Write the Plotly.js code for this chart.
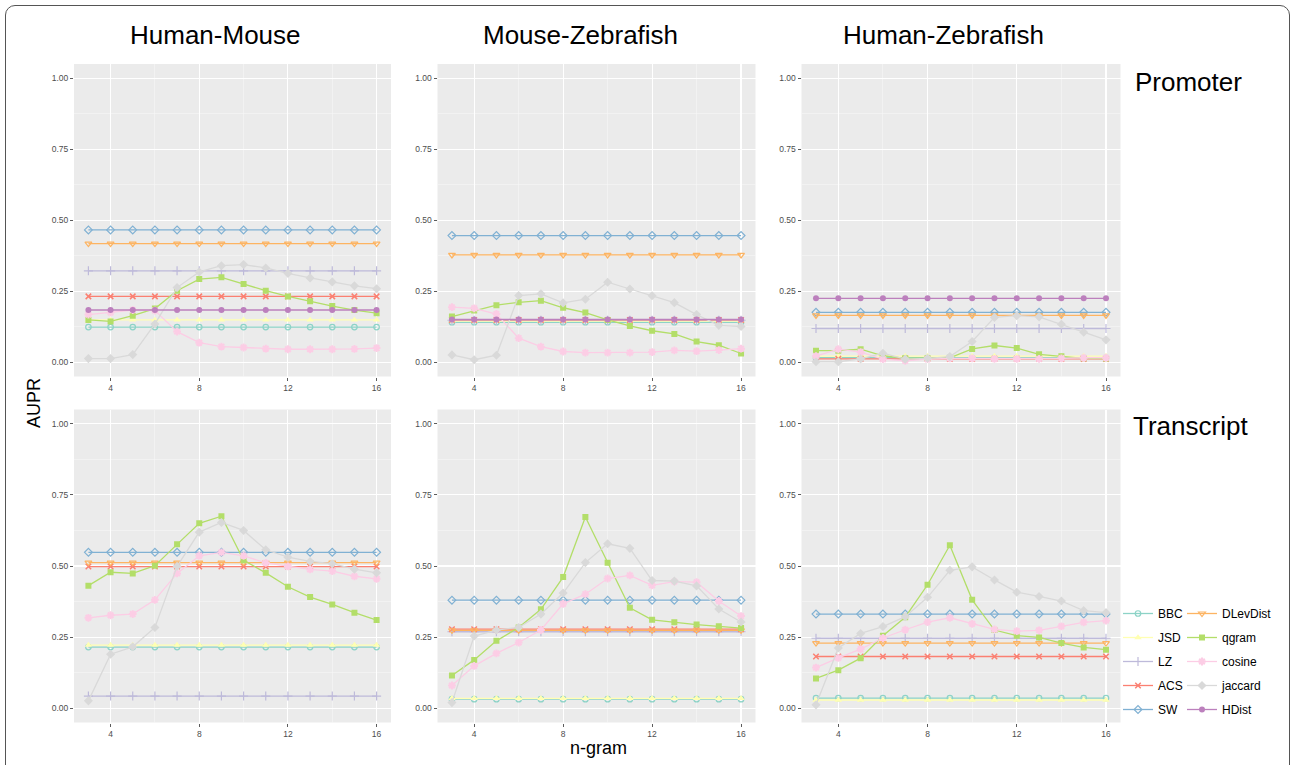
<!DOCTYPE html>
<html>
<head>
<meta charset="utf-8">
<script src="https://cdn.plot.ly/plotly-3.0.1.min.js"></script>
<style>
  html, body { margin: 0; padding: 0; background: #fff; }
  #wrap { position: relative; width: 1292px; height: 765px; overflow: hidden; }
  #chart { position: absolute; left: 0; top: 0; width: 1292px; height: 765px; }
  #frame { position: absolute; left: 5px; top: 5px; width: 1283px; height: 820px;
           border: 1.5px solid #555; border-radius: 10px; pointer-events: none; }
</style>
</head>
<body>
<div id="wrap"><div id="chart"></div><div id="frame"></div></div>
<script>
// ---------------- DATA ----------------
const ngram = [3, 4, 5, 6, 7, 8, 9, 10, 11, 12, 13, 14, 15, 16];
const methods = ['BBC', 'JSD', 'LZ', 'ACS', 'SW', 'DLevDist', 'qgram', 'cosine', 'jaccard', 'HDist'];
const speciesPairs = ['Human-Mouse', 'Mouse-Zebrafish', 'Human-Zebrafish'];
const regions = ['Promoter', 'Transcript'];
const yTickVals = [0, 0.25, 0.5, 0.75, 1];
const yTickText = ['0.00', '0.25', '0.50', '0.75', '1.00'];
const xTickVals = [4, 8, 12, 16];

// Human-Mouse, Promoter
const HM_P_BBC = [0.124,0.124,0.124,0.124,0.124,0.124,0.124,0.124,0.124,0.124,0.124,0.124,0.124,0.124];
const HM_P_JSD = [0.149,0.149,0.149,0.149,0.149,0.149,0.149,0.149,0.149,0.149,0.149,0.149,0.149,0.149];
const HM_P_LZ = [0.322,0.322,0.322,0.322,0.322,0.322,0.322,0.322,0.322,0.322,0.322,0.322,0.322,0.322];
const HM_P_ACS = [0.232,0.232,0.232,0.232,0.232,0.232,0.232,0.232,0.232,0.232,0.232,0.232,0.232,0.232];
const HM_P_SW = [0.466,0.466,0.466,0.466,0.466,0.466,0.466,0.466,0.466,0.466,0.466,0.466,0.466,0.466];
const HM_P_DLevDist = [0.418,0.418,0.418,0.418,0.418,0.418,0.418,0.418,0.418,0.418,0.418,0.418,0.418,0.418];
const HM_P_qgram = [0.149,0.144,0.164,0.189,0.252,0.293,0.299,0.276,0.252,0.232,0.215,0.198,0.184,0.173];
const HM_P_cosine = [0.168,0.175,0.184,0.182,0.108,0.069,0.055,0.052,0.048,0.046,0.046,0.046,0.047,0.050];
const HM_P_jaccard = [0.013,0.013,0.027,0.135,0.263,0.318,0.340,0.344,0.332,0.313,0.297,0.283,0.269,0.259];
const HM_P_HDist = [0.184,0.184,0.184,0.184,0.184,0.184,0.184,0.184,0.184,0.184,0.184,0.184,0.184,0.184];

// Mouse-Zebrafish, Promoter
const MZ_P_BBC = [0.141,0.141,0.141,0.141,0.141,0.141,0.141,0.141,0.141,0.141,0.141,0.141,0.141,0.141];
const MZ_P_JSD = [0.145,0.145,0.145,0.145,0.145,0.145,0.145,0.145,0.145,0.145,0.145,0.145,0.145,0.145];
const MZ_P_LZ = [0.148,0.148,0.148,0.148,0.148,0.148,0.148,0.148,0.148,0.148,0.148,0.148,0.148,0.148];
const MZ_P_ACS = [0.149,0.149,0.149,0.149,0.149,0.149,0.149,0.149,0.149,0.149,0.149,0.149,0.149,0.149];
const MZ_P_SW = [0.446,0.446,0.446,0.446,0.446,0.446,0.446,0.446,0.446,0.446,0.446,0.446,0.446,0.446];
const MZ_P_DLevDist = [0.378,0.378,0.378,0.378,0.378,0.378,0.378,0.378,0.378,0.378,0.378,0.378,0.378,0.378];
const MZ_P_qgram = [0.161,0.182,0.201,0.211,0.217,0.192,0.175,0.149,0.128,0.111,0.100,0.073,0.060,0.031];
const MZ_P_cosine = [0.194,0.190,0.170,0.085,0.055,0.038,0.034,0.034,0.034,0.036,0.042,0.039,0.043,0.048];
const MZ_P_jaccard = [0.026,0.009,0.025,0.235,0.241,0.209,0.222,0.282,0.258,0.234,0.210,0.168,0.130,0.126];
const MZ_P_HDist = [0.151,0.151,0.151,0.151,0.151,0.151,0.151,0.151,0.151,0.151,0.151,0.151,0.151,0.151];

// Human-Zebrafish, Promoter
const HZ_P_BBC = [0.016,0.016,0.016,0.016,0.016,0.016,0.016,0.016,0.016,0.016,0.016,0.016,0.016,0.016];
const HZ_P_JSD = [0.022,0.022,0.022,0.022,0.022,0.022,0.022,0.022,0.022,0.022,0.022,0.022,0.022,0.022];
const HZ_P_LZ = [0.119,0.119,0.119,0.119,0.119,0.119,0.119,0.119,0.119,0.119,0.119,0.119,0.119,0.119];
const HZ_P_ACS = [0.012,0.012,0.012,0.012,0.012,0.012,0.012,0.012,0.012,0.012,0.012,0.012,0.012,0.012];
const HZ_P_SW = [0.176,0.176,0.176,0.176,0.176,0.176,0.176,0.176,0.176,0.176,0.176,0.176,0.176,0.176];
const HZ_P_DLevDist = [0.165,0.165,0.165,0.165,0.165,0.165,0.165,0.165,0.165,0.165,0.165,0.165,0.165,0.165];
const HZ_P_qgram = [0.041,0.041,0.046,0.023,0.014,0.014,0.016,0.047,0.059,0.050,0.028,0.021,0.014,0.013];
const HZ_P_cosine = [0.022,0.046,0.036,0.011,0.005,0.011,0.014,0.014,0.012,0.012,0.012,0.014,0.016,0.016];
const HZ_P_jaccard = [0.002,0.002,0.012,0.032,0.011,0.014,0.020,0.073,0.158,0.164,0.160,0.134,0.106,0.079];
const HZ_P_HDist = [0.225,0.225,0.225,0.225,0.225,0.225,0.225,0.225,0.225,0.225,0.225,0.225,0.225,0.225];

// Human-Mouse, Transcript
const HM_T_BBC = [0.215,0.215,0.215,0.215,0.215,0.215,0.215,0.215,0.215,0.215,0.215,0.215,0.215,0.215];
const HM_T_JSD = [0.222,0.222,0.222,0.222,0.222,0.222,0.222,0.222,0.222,0.222,0.222,0.222,0.222,0.222];
const HM_T_LZ = [0.043,0.043,0.043,0.043,0.043,0.043,0.043,0.043,0.043,0.043,0.043,0.043,0.043,0.043];
const HM_T_ACS = [0.498,0.498,0.498,0.498,0.498,0.498,0.498,0.498,0.498,0.498,0.498,0.498,0.498,0.498];
const HM_T_SW = [0.548,0.548,0.548,0.548,0.548,0.548,0.548,0.548,0.548,0.548,0.548,0.548,0.548,0.548];
const HM_T_DLevDist = [0.512,0.512,0.512,0.512,0.512,0.512,0.512,0.512,0.512,0.512,0.512,0.512,0.512,0.512];
const HM_T_qgram = [0.431,0.478,0.474,0.501,0.576,0.650,0.675,0.520,0.476,0.427,0.391,0.365,0.336,0.310];
const HM_T_cosine = [0.318,0.327,0.331,0.381,0.474,0.536,0.548,0.536,0.511,0.499,0.488,0.482,0.464,0.455];
const HM_T_jaccard = [0.026,0.190,0.216,0.284,0.499,0.619,0.653,0.625,0.557,0.531,0.516,0.508,0.489,0.476];

// Mouse-Zebrafish, Transcript
const MZ_T_BBC = [0.032,0.032,0.032,0.032,0.032,0.032,0.032,0.032,0.032,0.032,0.032,0.032,0.032,0.032];
const MZ_T_JSD = [0.035,0.035,0.035,0.035,0.035,0.035,0.035,0.035,0.035,0.035,0.035,0.035,0.035,0.035];
const MZ_T_LZ = [0.269,0.269,0.269,0.269,0.269,0.269,0.269,0.269,0.269,0.269,0.269,0.269,0.269,0.269];
const MZ_T_ACS = [0.278,0.278,0.278,0.278,0.278,0.278,0.278,0.278,0.278,0.278,0.278,0.278,0.278,0.278];
const MZ_T_SW = [0.380,0.380,0.380,0.380,0.380,0.380,0.380,0.380,0.380,0.380,0.380,0.380,0.380,0.380];
const MZ_T_DLevDist = [0.274,0.274,0.274,0.274,0.274,0.274,0.274,0.274,0.274,0.274,0.274,0.274,0.274,0.274];
const MZ_T_qgram = [0.115,0.170,0.237,0.284,0.348,0.461,0.672,0.511,0.353,0.311,0.302,0.294,0.288,0.282];
const MZ_T_cosine = [0.080,0.149,0.193,0.231,0.275,0.367,0.401,0.456,0.467,0.432,0.445,0.443,0.377,0.324];
const MZ_T_jaccard = [0.020,0.254,0.275,0.284,0.331,0.405,0.512,0.578,0.562,0.449,0.447,0.430,0.349,0.303];

// Human-Zebrafish, Transcript
const HZ_T_BBC = [0.036,0.036,0.036,0.036,0.036,0.036,0.036,0.036,0.036,0.036,0.036,0.036,0.036,0.036];
const HZ_T_JSD = [0.029,0.029,0.029,0.029,0.029,0.029,0.029,0.029,0.029,0.029,0.029,0.029,0.029,0.029];
const HZ_T_LZ = [0.246,0.246,0.246,0.246,0.246,0.246,0.246,0.246,0.246,0.246,0.246,0.246,0.246,0.246];
const HZ_T_ACS = [0.182,0.182,0.182,0.182,0.182,0.182,0.182,0.182,0.182,0.182,0.182,0.182,0.182,0.182];
const HZ_T_SW = [0.331,0.331,0.331,0.331,0.331,0.331,0.331,0.331,0.331,0.331,0.331,0.331,0.331,0.331];
const HZ_T_DLevDist = [0.229,0.229,0.229,0.229,0.229,0.229,0.229,0.229,0.229,0.229,0.229,0.229,0.229,0.229];
const HZ_T_qgram = [0.105,0.134,0.176,0.255,0.320,0.434,0.573,0.381,0.275,0.255,0.249,0.229,0.214,0.206];
const HZ_T_cosine = [0.143,0.177,0.208,0.247,0.276,0.303,0.318,0.297,0.277,0.271,0.274,0.288,0.302,0.308];
const HZ_T_jaccard = [0.012,0.212,0.263,0.287,0.322,0.390,0.485,0.497,0.451,0.408,0.393,0.377,0.343,0.336];

// ---------------- PANELS (built from the arrays) ----------------
const panels = [
  {BBC:HM_P_BBC, JSD:HM_P_JSD, LZ:HM_P_LZ, ACS:HM_P_ACS, SW:HM_P_SW, DLevDist:HM_P_DLevDist, qgram:HM_P_qgram, cosine:HM_P_cosine, jaccard:HM_P_jaccard, HDist:HM_P_HDist},
  {BBC:MZ_P_BBC, JSD:MZ_P_JSD, LZ:MZ_P_LZ, ACS:MZ_P_ACS, SW:MZ_P_SW, DLevDist:MZ_P_DLevDist, qgram:MZ_P_qgram, cosine:MZ_P_cosine, jaccard:MZ_P_jaccard, HDist:MZ_P_HDist},
  {BBC:HZ_P_BBC, JSD:HZ_P_JSD, LZ:HZ_P_LZ, ACS:HZ_P_ACS, SW:HZ_P_SW, DLevDist:HZ_P_DLevDist, qgram:HZ_P_qgram, cosine:HZ_P_cosine, jaccard:HZ_P_jaccard, HDist:HZ_P_HDist},
  {BBC:HM_T_BBC, JSD:HM_T_JSD, LZ:HM_T_LZ, ACS:HM_T_ACS, SW:HM_T_SW, DLevDist:HM_T_DLevDist, qgram:HM_T_qgram, cosine:HM_T_cosine, jaccard:HM_T_jaccard},
  {BBC:MZ_T_BBC, JSD:MZ_T_JSD, LZ:MZ_T_LZ, ACS:MZ_T_ACS, SW:MZ_T_SW, DLevDist:MZ_T_DLevDist, qgram:MZ_T_qgram, cosine:MZ_T_cosine, jaccard:MZ_T_jaccard},
  {BBC:HZ_T_BBC, JSD:HZ_T_JSD, LZ:HZ_T_LZ, ACS:HZ_T_ACS, SW:HZ_T_SW, DLevDist:HZ_T_DLevDist, qgram:HZ_T_qgram, cosine:HZ_T_cosine, jaccard:HZ_T_jaccard}
];

// ---------------- STYLE ----------------
const W = 1292, H = 765;
const FONT = 'Liberation Sans, Arial, Helvetica, sans-serif';
const styles = {
  BBC:      {color:'#8DD3C7', symbol:'circle-open',       size:5.5, lw:1.2},
  JSD:      {color:'#FFFFB3', symbol:'triangle-up',       size:6.5, lw:0},
  LZ:       {color:'#BEBADA', symbol:'cross-thin-open',   size:6.5, lw:1.2},
  ACS:      {color:'#FB8072', symbol:'x-thin-open',       size:5.5, lw:1.5},
  SW:       {color:'#80B1D3', symbol:'diamond-open',      size:6, lw:1.2},
  DLevDist: {color:'#FDB462', symbol:'triangle-down-open',size:6, lw:1.2},
  qgram:    {color:'#B3DE69', symbol:'square',            size:6, lw:0},
  cosine:   {color:'#FCCDE5', symbol:'asterisk-open',     size:6.5, lw:2},
  jaccard:  {color:'#D9D9D9', symbol:'diamond',           size:7, lw:0},
  HDist:    {color:'#BC80BD', symbol:'circle',            size:6, lw:0}
};
// pixel geometry of the facet grid
const colPx = [[74, 391], [437.5, 755.5], [801.5, 1120.5]];
const rowPx = [[64, 376.5], [409.5, 722.5]];

const traces = [];
panels.forEach((p, i) => {
  const suffix = i === 0 ? '' : String(i + 1);
  methods.forEach(m => {
    if (!p[m]) return;
    const s = styles[m];
    const firstLegend = ['BBC','JSD','LZ','ACS','SW'].includes(m);
    traces.push({
      type: 'scatter', mode: 'lines+markers',
      x: ngram, y: p[m], name: m,
      xaxis: 'x' + suffix, yaxis: 'y' + suffix,
      legendgroup: m, showlegend: i === 0,
      legend: firstLegend ? 'legend' : 'legend2',
      line: {color: s.color, width: 1.3},
      marker: {color: s.color, symbol: s.symbol, size: s.size, line: {color: s.color, width: s.lw}},
      hoverinfo: 'x+y+name'
    });
  });
});

const layout = {
  width: W, height: H,
  margin: {l: 0, r: 0, t: 0, b: 0},
  paper_bgcolor: '#ffffff',
  plot_bgcolor: '#EBEBEB',
  font: {family: FONT, color: '#000'},
  showlegend: true,
  legend: {
    x: 1118 / W, y: (H - 599) / H, xanchor: 'left', yanchor: 'top',
    bgcolor: 'rgba(0,0,0,0)', font: {family: FONT, size: 12, color: '#000'},
    itemwidth: 30, tracegroupgap: 5, orientation: 'v'
  },
  legend2: {
    x: 1182 / W, y: (H - 599) / H, xanchor: 'left', yanchor: 'top',
    bgcolor: 'rgba(0,0,0,0)', font: {family: FONT, size: 12, color: '#000'},
    itemwidth: 30, tracegroupgap: 5, orientation: 'v'
  },
  annotations: [],
  shapes: []
};

for (let i = 0; i < 6; i++) {
  const c = i % 3, r = Math.floor(i / 3);
  const suffix = i === 0 ? '' : String(i + 1);
  layout['xaxis' + suffix] = {
    domain: [colPx[c][0] / W, colPx[c][1] / W],
    anchor: 'y' + suffix,
    range: [2.35, 16.65],
    tickmode: 'array', tickvals: xTickVals,
    ticks: 'outside', ticklen: 3, tickwidth: 0.8, tickcolor: '#333',
    tickfont: {family: FONT, size: 8.5, color: '#4d4d4d'},
    showgrid: true, gridcolor: '#ffffff', gridwidth: 1.1,
    minor: {tick0: 0, dtick: 2, showgrid: true, gridcolor: '#F7F7F7', gridwidth: 0.6, ticks: ''},
    zeroline: false, showline: false, fixedrange: true
  };
  layout['yaxis' + suffix] = {
    domain: [(H - rowPx[r][1]) / H, (H - rowPx[r][0]) / H],
    anchor: 'x' + suffix,
    range: [-0.05, 1.05],
    tickmode: 'array', tickvals: yTickVals, ticktext: yTickText,
    ticks: 'outside', ticklen: 3, tickwidth: 0.8, tickcolor: '#333',
    tickfont: {family: FONT, size: 8.5, color: '#4d4d4d'},
    showgrid: true, gridcolor: '#ffffff', gridwidth: 1.1,
    minor: {tick0: 0, dtick: 0.125, showgrid: true, gridcolor: '#F7F7F7', gridwidth: 0.6, ticks: ''},
    zeroline: false, showline: false, fixedrange: true
  };
}

// facet titles
const titleX = [215, 580, 943];
speciesPairs.forEach((t, k) => {
  layout.annotations.push({text: t, xref: 'paper', yref: 'paper', x: titleX[k] / W, y: (H - 35) / H,
    xanchor: 'center', yanchor: 'middle', showarrow: false, font: {family: FONT, size: 26, color: '#000'}});
});
const rowLabelY = [82, 426];
const rowLabelX = [1133, 1131];
regions.forEach((t, k) => {
  layout.annotations.push({text: t, xref: 'paper', yref: 'paper', x: rowLabelX[k] / W, y: (H - rowLabelY[k]) / H,
    xanchor: 'left', yanchor: 'middle', showarrow: false, font: {family: FONT, size: 26, color: '#000'}});
});
layout.annotations.push({text: 'AUPR', xref: 'paper', yref: 'paper', x: 34 / W, y: (H - 403) / H,
  xanchor: 'center', yanchor: 'middle', textangle: -90, showarrow: false, font: {family: FONT, size: 18, color: '#000'}});
layout.annotations.push({text: 'n-gram', xref: 'paper', yref: 'paper', x: 598 / W, y: (H - 748) / H,
  xanchor: 'center', yanchor: 'middle', showarrow: false, font: {family: FONT, size: 18, color: '#000'}});

Plotly.newPlot('chart', traces, layout, {displayModeBar: false, staticPlot: true});
</script>
</body>
</html>
